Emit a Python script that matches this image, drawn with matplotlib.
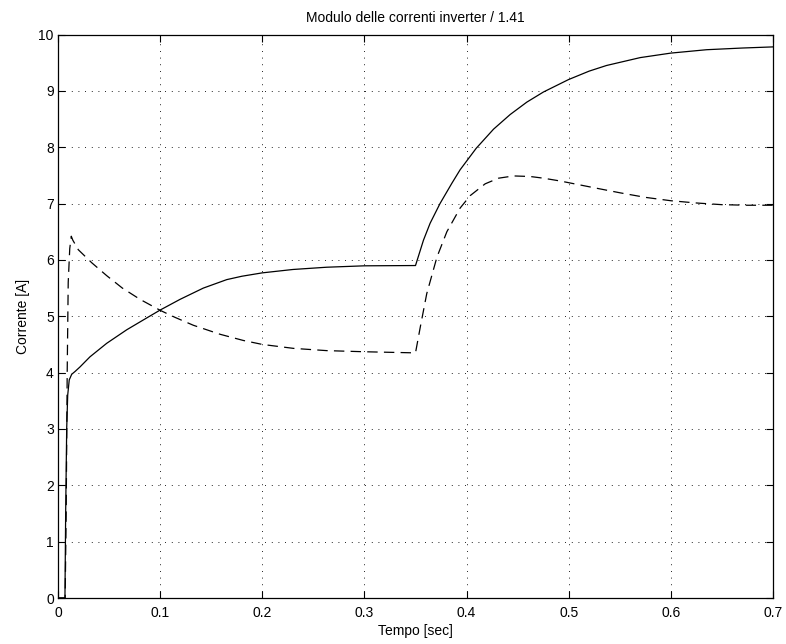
import matplotlib
matplotlib.use("Agg")
import matplotlib.pyplot as plt

# Solid curve
t_solid = [0.0, 0.0068, 0.0075, 0.0085, 0.0095, 0.011, 0.0134, 0.0167, 0.0215,
           0.0313, 0.0477, 0.0673, 0.085, 0.1, 0.1195, 0.1423, 0.1652, 0.18,
           0.2, 0.23, 0.263, 0.3, 0.35, 0.3578, 0.3643, 0.374, 0.3856, 0.3937,
           0.4094, 0.4264, 0.4427, 0.459, 0.4753, 0.4998, 0.52, 0.537, 0.570,
           0.600, 0.635, 0.67, 0.7]
i_solid = [0.0, 0.0, 1.5, 3.0, 3.6, 3.87, 3.97, 4.02, 4.10,
           4.28, 4.52, 4.76, 4.95, 5.11, 5.30, 5.50, 5.65, 5.71,
           5.77, 5.83, 5.87, 5.895, 5.90, 6.35, 6.65, 7.00, 7.36, 7.60,
           7.98, 8.32, 8.58, 8.80, 8.98, 9.20, 9.35, 9.45, 9.59,
           9.67, 9.73, 9.76, 9.78]

# Dashed curve
t_dashed = [0.0, 0.0070, 0.0080, 0.0090, 0.0100, 0.0115, 0.0130, 0.0145, 0.0199,
            0.033, 0.0477, 0.063, 0.0803, 0.1006, 0.1146, 0.1325, 0.1587, 0.1815,
            0.2, 0.2305, 0.263, 0.3, 0.35, 0.3546, 0.361, 0.371, 0.3807, 0.3937,
            0.4035, 0.4182, 0.4313, 0.446, 0.4623, 0.4753, 0.4917, 0.5,
            0.525, 0.5504, 0.575, 0.6, 0.625, 0.65, 0.675, 0.7]
i_dashed = [0.0, 0.0, 1.5, 4.0, 5.6, 6.2, 6.42, 6.35, 6.18,
            5.95, 5.72, 5.50, 5.30, 5.10, 4.98, 4.84, 4.68, 4.57,
            4.50, 4.43, 4.39, 4.37, 4.35, 4.80, 5.40, 6.05, 6.50, 6.92,
            7.14, 7.35, 7.45, 7.49, 7.48, 7.45, 7.40, 7.37,
            7.28, 7.19, 7.11, 7.05, 7.01, 6.98, 6.97, 6.97]

x_ticks = [0, 0.1, 0.2, 0.3, 0.4, 0.5, 0.6, 0.7]
x_tick_labels = ["0", "0.1", "0.2", "0.3", "0.4", "0.5", "0.6", "0.7"]
y_ticks = list(range(0, 11))

plt.rcParams['font.family'] = ['Liberation Sans', 'DejaVu Sans']
plt.rcParams['lines.scale_dashes'] = False

fig = plt.figure(figsize=(7.86, 6.44), dpi=100)
ax = fig.add_axes([58/786, 1 - 598/644, (773-58)/786, (598-34.5)/644])

ax.plot(t_solid, i_solid, color='black', lw=0.9, solid_joinstyle='round')
ax.plot(t_dashed, i_dashed, color='black', lw=0.9, linestyle=(0, (7.5, 4.5)))

ax.set_xlim(0, 0.7)
ax.set_ylim(0, 10)
ax.set_xticks(x_ticks)
ax.set_xticklabels(x_tick_labels)
ax.set_yticks(y_ticks)

ax.grid(True, color='black', linestyle=(0, (0.6, 4.2)), linewidth=0.7)
ax.tick_params(direction='in', length=5, width=0.8, top=True, right=True,
               labelsize=10, colors='black')
ax.tick_params(axis='x', pad=6)
ax.tick_params(axis='y', pad=3)
for s in ax.spines.values():
    s.set_linewidth(0.9)

ax.set_title("Modulo delle correnti inverter / 1.41", fontsize=10, pad=9)
ax.set_xlabel("Tempo [sec]", fontsize=10, labelpad=3)
ax.set_ylabel("Corrente [A]", fontsize=10, labelpad=6)

fig.savefig("out.png", dpi=100)
